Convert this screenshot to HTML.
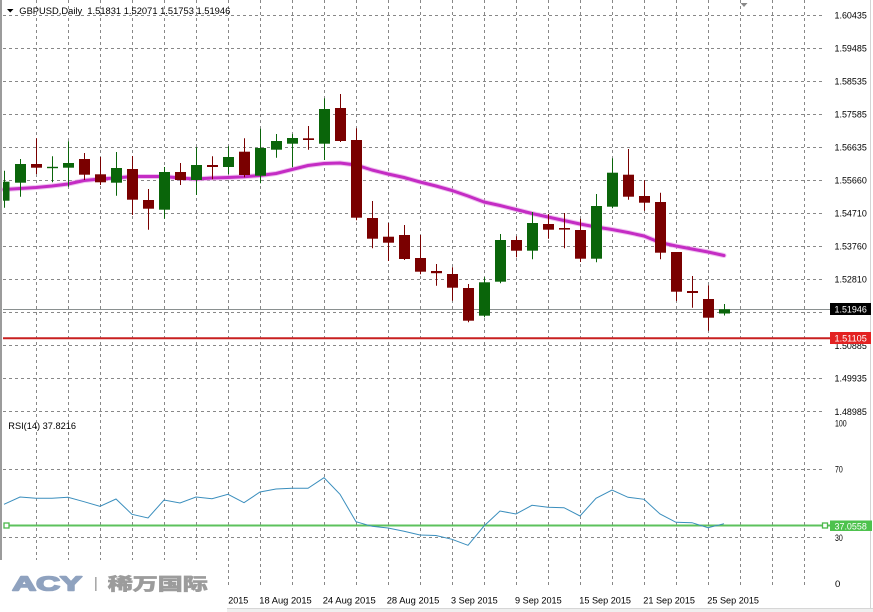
<!DOCTYPE html>
<html><head><meta charset="utf-8"><style>
html,body{margin:0;padding:0;background:#fff;}
svg{display:block;}
text{font-family:"Liberation Sans","Noto Sans CJK SC",sans-serif;}
</style></head><body>
<svg width="873" height="612" viewBox="0 0 873 612" xmlns="http://www.w3.org/2000/svg">
<rect x="0" y="0" width="873" height="612" fill="#fff"/>
<!-- vertical grid -->
<g stroke="#888" stroke-width="1" stroke-dasharray="3,3">
<line x1="36.5" y1="0" x2="36.5" y2="588"/><line x1="68.5" y1="0" x2="68.5" y2="588"/><line x1="100.5" y1="0" x2="100.5" y2="588"/><line x1="132.5" y1="0" x2="132.5" y2="588"/><line x1="164.5" y1="0" x2="164.5" y2="588"/><line x1="196.5" y1="0" x2="196.5" y2="588"/><line x1="228.5" y1="0" x2="228.5" y2="588"/><line x1="260.5" y1="0" x2="260.5" y2="588"/><line x1="292.5" y1="0" x2="292.5" y2="588"/><line x1="324.5" y1="0" x2="324.5" y2="588"/><line x1="356.5" y1="0" x2="356.5" y2="588"/><line x1="388.5" y1="0" x2="388.5" y2="588"/><line x1="420.5" y1="0" x2="420.5" y2="588"/><line x1="452.5" y1="0" x2="452.5" y2="588"/><line x1="484.5" y1="0" x2="484.5" y2="588"/><line x1="516.5" y1="0" x2="516.5" y2="588"/><line x1="548.5" y1="0" x2="548.5" y2="588"/><line x1="580.5" y1="0" x2="580.5" y2="588"/><line x1="612.5" y1="0" x2="612.5" y2="588"/><line x1="644.5" y1="0" x2="644.5" y2="588"/><line x1="676.5" y1="0" x2="676.5" y2="588"/><line x1="708.5" y1="0" x2="708.5" y2="588"/><line x1="740.5" y1="0" x2="740.5" y2="588"/><line x1="772.5" y1="0" x2="772.5" y2="588"/><line x1="804.5" y1="0" x2="804.5" y2="588"/>
</g>
<!-- horizontal grid -->
<g stroke="#888" stroke-width="1" stroke-dasharray="3,3">
<line x1="3" y1="15.5" x2="823" y2="15.5"/><line x1="3" y1="48.5" x2="823" y2="48.5"/><line x1="3" y1="81.5" x2="823" y2="81.5"/><line x1="3" y1="114.5" x2="823" y2="114.5"/><line x1="3" y1="147.5" x2="823" y2="147.5"/><line x1="3" y1="180.5" x2="823" y2="180.5"/><line x1="3" y1="213.5" x2="823" y2="213.5"/><line x1="3" y1="246.5" x2="823" y2="246.5"/><line x1="3" y1="279.5" x2="823" y2="279.5"/><line x1="3" y1="312.5" x2="823" y2="312.5"/><line x1="3" y1="345.5" x2="823" y2="345.5"/><line x1="3" y1="378.5" x2="823" y2="378.5"/><line x1="3" y1="411.5" x2="823" y2="411.5"/>
<line x1="3" y1="469.5" x2="823" y2="469.5"/><line x1="3" y1="537.5" x2="823" y2="537.5"/>
</g>
<!-- borders -->
<line x1="1" y1="0" x2="1" y2="560" stroke="#7a7a7a" stroke-width="1.5"/>
<line x1="870.5" y1="0" x2="870.5" y2="608" stroke="#d4d4d4" stroke-width="1"/>
<!-- top triangle marker -->
<polygon points="740.5,3 747.5,3 744,7" fill="#888"/>
<!-- title -->
<polygon points="7,9 13.5,9 10.25,12.5" fill="#000"/>
<text x="19.3" y="13.8" font-size="9.6" fill="#000" textLength="211" lengthAdjust="spacingAndGlyphs" xml:space="preserve">GBPUSD,Daily  1.51831 1.52071 1.51753 1.51946</text>

<!-- price lines -->
<line x1="3" y1="309.5" x2="830" y2="309.5" stroke="#8a9090" stroke-width="1"/>
<line x1="3" y1="338.3" x2="830" y2="338.3" stroke="#c82020" stroke-width="2"/>

<!-- MA -->
<polyline fill="none" stroke="#eaa8ea" stroke-width="5" stroke-linejoin="round" stroke-linecap="round" opacity="0.7" points="4,189.5 20,188.5 36,187.5 52,186 68,184 84,180.5 100,179 116,178 132,176.5 148,176.5 164,176.5 180,178 196,179 212,178 228,177.5 244,176.7 260,175.5 276,173.5 292,169.5 308,165.5 324,163.5 340,163 356,165 372,170 388,174 404,177.5 420,182 436,186 452,190.5 468,196 484,202 500,205.5 516,209.5 532,213.5 548,217 564,220.5 580,224 596,227 612,229.5 628,232.5 644,236 660,242.5 676,246 692,249 708,252 724,255.5"/>
<polyline fill="none" stroke="#c42cc4" stroke-width="3" stroke-linejoin="round" stroke-linecap="round" points="4,189.5 20,188.5 36,187.5 52,186 68,184 84,180.5 100,179 116,178 132,176.5 148,176.5 164,176.5 180,178 196,179 212,178 228,177.5 244,176.7 260,175.5 276,173.5 292,169.5 308,165.5 324,163.5 340,163 356,165 372,170 388,174 404,177.5 420,182 436,186 452,190.5 468,196 484,202 500,205.5 516,209.5 532,213.5 548,217 564,220.5 580,224 596,227 612,229.5 628,232.5 644,236 660,242.5 676,246 692,249 708,252 724,255.5"/>

<!-- candles -->
<g stroke-width="1">
<g stroke="#0a650a" fill="#0a650a">
<line x1="4.5" y1="170.7" x2="4.5" y2="207.7"/><rect x="3" y="181.7" width="6.5" height="19" stroke="none"/>
<line x1="20.5" y1="159" x2="20.5" y2="196.7"/><rect x="15" y="164" width="11" height="18.7" stroke="none"/>
<line x1="52.5" y1="156.3" x2="52.5" y2="182.3"/><rect x="47" y="166.8" width="11" height="1.4" stroke="none"/>
<line x1="68.5" y1="141.3" x2="68.5" y2="186.7"/><rect x="63" y="163" width="11" height="4.7" stroke="none"/>
<line x1="116.5" y1="152" x2="116.5" y2="195.7"/><rect x="111" y="168" width="11" height="14.7" stroke="none"/>
<line x1="164.5" y1="167" x2="164.5" y2="218.7"/><rect x="159" y="172" width="11" height="37.7" stroke="none"/>
<line x1="196.5" y1="147.3" x2="196.5" y2="195"/><rect x="191" y="165" width="11" height="15" stroke="none"/>
<line x1="228.5" y1="146.3" x2="228.5" y2="174"/><rect x="223" y="157" width="11" height="10" stroke="none"/>
<line x1="260.5" y1="128.7" x2="260.5" y2="183.3"/><rect x="255" y="148" width="11" height="27.7" stroke="none"/>
<line x1="276.5" y1="134" x2="276.5" y2="157.7"/><rect x="271" y="141" width="11" height="8.7" stroke="none"/>
<line x1="292.5" y1="134" x2="292.5" y2="167.3"/><rect x="287" y="138" width="11" height="5.7" stroke="none"/>
<line x1="324.5" y1="98.3" x2="324.5" y2="160"/><rect x="319" y="109" width="11" height="34.7" stroke="none"/>
<line x1="484.5" y1="277.3" x2="484.5" y2="317.3"/><rect x="479" y="282.3" width="11" height="33.4" stroke="none"/>
<line x1="500.5" y1="234" x2="500.5" y2="283.3"/><rect x="495" y="240" width="11" height="41.7" stroke="none"/>
<line x1="532.5" y1="212" x2="532.5" y2="259.3"/><rect x="527" y="223" width="11" height="27.7" stroke="none"/>
<line x1="596.5" y1="194" x2="596.5" y2="262.3"/><rect x="591" y="206" width="11" height="52.7" stroke="none"/>
<line x1="612.5" y1="158.3" x2="612.5" y2="208.3"/><rect x="607" y="172.7" width="11" height="34" stroke="none"/>
<line x1="724.5" y1="304" x2="724.5" y2="315.5"/><rect x="719" y="309.3" width="11" height="4.2" stroke="none"/>
</g>
<g stroke="#7a0000" fill="#7a0000">
<line x1="36.5" y1="138.3" x2="36.5" y2="174"/><rect x="31" y="164" width="11" height="3.7" stroke="none"/>
<line x1="84.5" y1="153" x2="84.5" y2="180"/><rect x="79" y="159" width="11" height="15.7" stroke="none"/>
<line x1="100.5" y1="157" x2="100.5" y2="185"/><rect x="95" y="174.3" width="11" height="8" stroke="none"/>
<line x1="132.5" y1="156" x2="132.5" y2="215"/><rect x="127" y="169" width="11" height="30.7" stroke="none"/>
<line x1="148.5" y1="189" x2="148.5" y2="229.7"/><rect x="143" y="200" width="11" height="8.7" stroke="none"/>
<line x1="180.5" y1="163" x2="180.5" y2="185"/><rect x="175" y="172" width="11" height="8" stroke="none"/>
<line x1="212.5" y1="156.3" x2="212.5" y2="179.3"/><rect x="207" y="165" width="11" height="2" stroke="none"/>
<line x1="244.5" y1="138.3" x2="244.5" y2="177.3"/><rect x="239" y="151.7" width="11" height="23.3" stroke="none"/>
<line x1="308.5" y1="126" x2="308.5" y2="149.7"/><rect x="303" y="138.3" width="11" height="1.7" stroke="none"/>
<line x1="340.5" y1="94" x2="340.5" y2="142"/><rect x="335" y="108" width="11" height="33" stroke="none"/>
<line x1="356.5" y1="128.3" x2="356.5" y2="220.3"/><rect x="351" y="140" width="11" height="77.7" stroke="none"/>
<line x1="372.5" y1="201" x2="372.5" y2="248.3"/><rect x="367" y="218" width="11" height="20.7" stroke="none"/>
<line x1="388.5" y1="223" x2="388.5" y2="261"/><rect x="383" y="236.7" width="11" height="6" stroke="none"/>
<line x1="404.5" y1="225" x2="404.5" y2="260"/><rect x="399" y="235" width="11" height="24" stroke="none"/>
<line x1="420.5" y1="235" x2="420.5" y2="274.3"/><rect x="415" y="258" width="11" height="13.7" stroke="none"/>
<line x1="436.5" y1="264" x2="436.5" y2="285.7"/><rect x="431" y="271" width="11" height="2.2" stroke="none"/>
<line x1="452.5" y1="267.3" x2="452.5" y2="300.7"/><rect x="447" y="274" width="11" height="13.7" stroke="none"/>
<line x1="468.5" y1="284" x2="468.5" y2="322.3"/><rect x="463" y="288" width="11" height="32.7" stroke="none"/>
<line x1="516.5" y1="236.3" x2="516.5" y2="257.3"/><rect x="511" y="240" width="11" height="10.7" stroke="none"/>
<line x1="548.5" y1="214" x2="548.5" y2="238.7"/><rect x="543" y="224" width="11" height="5.7" stroke="none"/>
<line x1="564.5" y1="213" x2="564.5" y2="248.3"/><rect x="559" y="228" width="11" height="1.6" stroke="none"/>
<line x1="580.5" y1="218.7" x2="580.5" y2="262"/><rect x="575" y="230" width="11" height="28.7" stroke="none"/>
<line x1="628.5" y1="149" x2="628.5" y2="199.7"/><rect x="623" y="174.7" width="11" height="22" stroke="none"/>
<line x1="644.5" y1="180.3" x2="644.5" y2="210.7"/><rect x="639" y="196" width="11" height="6.7" stroke="none"/>
<line x1="660.5" y1="192.7" x2="660.5" y2="259.3"/><rect x="655" y="202" width="11" height="50.7" stroke="none"/>
<line x1="676.5" y1="252" x2="676.5" y2="301"/><rect x="671" y="252" width="11" height="39.7" stroke="none"/>
<line x1="692.5" y1="276" x2="692.5" y2="307.7"/><rect x="687" y="291" width="11" height="2" stroke="none"/>
<line x1="708.5" y1="285.3" x2="708.5" y2="330.7"/><rect x="703" y="299" width="11" height="18.7" stroke="none"/>
</g>
</g>

<!-- price scale labels -->
<g font-size="9.5" fill="#000">
<text x="834.5" y="18.5" textLength="32.3" lengthAdjust="spacingAndGlyphs">1.60435</text>
<text x="834.5" y="51.5" textLength="32.3" lengthAdjust="spacingAndGlyphs">1.59485</text>
<text x="834.5" y="84.5" textLength="32.3" lengthAdjust="spacingAndGlyphs">1.58535</text>
<text x="834.5" y="117.5" textLength="32.3" lengthAdjust="spacingAndGlyphs">1.57585</text>
<text x="834.5" y="150.5" textLength="32.3" lengthAdjust="spacingAndGlyphs">1.56635</text>
<text x="834.5" y="183.5" textLength="32.3" lengthAdjust="spacingAndGlyphs">1.55660</text>
<text x="834.5" y="216.5" textLength="32.3" lengthAdjust="spacingAndGlyphs">1.54710</text>
<text x="834.5" y="249.5" textLength="32.3" lengthAdjust="spacingAndGlyphs">1.53760</text>
<text x="834.5" y="282.5" textLength="32.3" lengthAdjust="spacingAndGlyphs">1.52810</text>
<text x="834.5" y="348.8" textLength="32.3" lengthAdjust="spacingAndGlyphs">1.50885</text>
<text x="834.5" y="381.5" textLength="32.3" lengthAdjust="spacingAndGlyphs">1.49935</text>
<text x="834.5" y="414.8" textLength="32.3" lengthAdjust="spacingAndGlyphs">1.48985</text>
</g>
<rect x="830" y="303" width="41" height="12" fill="#000"/>
<text x="834.5" y="312.6" font-size="9.5" fill="#fff" textLength="32.3" lengthAdjust="spacingAndGlyphs">1.51946</text>
<rect x="830" y="332" width="41" height="12" fill="#e32222"/>
<text x="834.5" y="341.6" font-size="9.5" fill="#fff" textLength="32.3" lengthAdjust="spacingAndGlyphs">1.51105</text>

<!-- RSI -->
<text x="8.3" y="429" font-size="9.5" fill="#000" textLength="67.7" lengthAdjust="spacingAndGlyphs">RSI(14) 37.8216</text>
<g font-size="9.5" fill="#000">
<text x="835" y="426.5" textLength="11.7" lengthAdjust="spacingAndGlyphs">100</text>
<text x="835" y="472.5" textLength="7.8" lengthAdjust="spacingAndGlyphs">70</text>
<text x="835" y="540.8" textLength="7.8" lengthAdjust="spacingAndGlyphs">30</text>
<text x="835" y="586.8">0</text>
</g>
<line x1="4" y1="525.5" x2="830" y2="525.5" stroke="#5cc25c" stroke-width="2"/>
<rect x="4" y="523" width="5" height="5" fill="#fff" stroke="#4cb84c" stroke-width="1.3"/>
<rect x="822.5" y="523" width="5" height="5" fill="#fff" stroke="#4cb84c" stroke-width="1.3"/>
<rect x="830" y="520.5" width="42" height="10.5" fill="#4ec24e"/>
<text x="834.5" y="529.3" font-size="9.5" fill="#fff" textLength="32.3" lengthAdjust="spacingAndGlyphs">37.0558</text>
<polyline fill="none" stroke="#3a8ebd" stroke-width="1" points="4,504.3 20,497 36,498.3 52,498.3 68,497.3 84,501.7 100,506.3 116,499 132,514.3 148,518 164,500 180,503 196,497 212,498.7 228,494.3 244,502.7 260,492 276,489 292,488.3 308,488.3 324,477.7 340,494.3 356,521.7 372,526.3 388,528 404,531.3 420,535 436,535.5 452,539.3 468,545.3 484,526 500,511 516,514 532,505.3 548,507.3 564,507.7 580,516 596,498.3 612,490 628,497.3 644,499.3 660,514 676,522.3 692,522.7 708,527.7 724,523.7"/>

<!-- time axis -->
<g font-size="9.5" fill="#000">
<text x="228.3" y="603.5" textLength="20" lengthAdjust="spacingAndGlyphs">2015</text>
<text x="259.3" y="603.5" textLength="52.4" lengthAdjust="spacingAndGlyphs">18 Aug 2015</text>
<text x="322.7" y="603.5" textLength="53" lengthAdjust="spacingAndGlyphs">24 Aug 2015</text>
<text x="386.7" y="603.5" textLength="52.6" lengthAdjust="spacingAndGlyphs">28 Aug 2015</text>
<text x="451" y="603.5" textLength="46.7" lengthAdjust="spacingAndGlyphs">3 Sep 2015</text>
<text x="515" y="603.5" textLength="46.7" lengthAdjust="spacingAndGlyphs">9 Sep 2015</text>
<text x="579.3" y="603.5" textLength="51.7" lengthAdjust="spacingAndGlyphs">15 Sep 2015</text>
<text x="643.3" y="603.5" textLength="51.7" lengthAdjust="spacingAndGlyphs">21 Sep 2015</text>
<text x="707.3" y="603.5" textLength="51.7" lengthAdjust="spacingAndGlyphs">25 Sep 2015</text>
</g>
<rect x="227" y="608" width="646" height="4" fill="#efefef"/>
<line x1="227" y1="608.5" x2="873" y2="608.5" stroke="#d6d6d6" stroke-width="1"/>

<!-- watermark -->
<rect x="0" y="560" width="226" height="52" fill="#fff"/>
<text x="12.3" y="590.5" font-size="20" font-weight="bold" fill="#8fa2bf" stroke="#8fa2bf" stroke-width="1.6" stroke-linejoin="round" textLength="69.8" lengthAdjust="spacingAndGlyphs">ACY</text>
<rect x="95" y="577" width="1.6" height="14" fill="#a9a9a9"/>
<text x="107.8" y="590" font-size="17" font-weight="bold" fill="#9c9c9c" stroke="#9c9c9c" stroke-width="0.8" textLength="100" lengthAdjust="spacingAndGlyphs">稀万国际</text>
</svg>
</body></html>
